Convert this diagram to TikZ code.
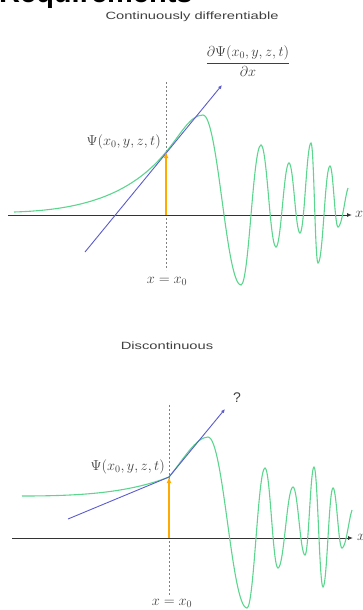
\documentclass[tikz,border=0pt]{standalone}
\usepackage{fontspec}
\setmainfont{Liberation Sans}
\usetikzlibrary{arrows.meta}
\definecolor{wave}{HTML}{5CD68F}
\definecolor{tang}{HTML}{5B5BD0}
\definecolor{amber}{HTML}{FFAA00}
\definecolor{axisc}{HTML}{333333}
\definecolor{txt}{HTML}{404040}
\tikzset{
  axisline/.style={draw=axisc, line width=0.9pt, -{Latex[length=5pt,width=4pt]}},
  guide/.style={draw=gray, dash pattern=on 2pt off 2pt, line width=0.5pt},
  wavecurve/.style={draw=wave, line width=1.1pt},
  tangent/.style={draw=tang, line width=0.9pt, -{Latex[length=4pt,width=3.5pt]}},
  lift/.style={draw=amber, line width=1.3pt, -{Latex[length=6pt,width=5pt]}},
  heading/.style={text=txt, font=\fontsize{10.5}{12}\selectfont, inner sep=0},
  mlabel/.style={text=txt, font=\fontsize{14}{16}\selectfont, inner sep=0}
}
\begin{document}
\begin{tikzpicture}[x=1pt,y=-1pt]
\useasboundingbox (0,0) rectangle (362,610);
\clip (0,0) rectangle (362,610);
\node[anchor=base west, inner sep=0, font=\fontsize{29}{30}\selectfont\bfseries] (req) at (-1,3) {Requirements};

% ---------- top panel ----------
\node[heading] (t1) at (192,17) {\scalebox{1.4}[1]{Continuously differentiable}};
\node[mlabel] (d1) at (248,61) {$\displaystyle\frac{\partial\Psi(x_0,y,z,t)}{\partial x}$};
\coordinate (a1l) at (8,215);
\coordinate (a1r) at (352,215);
\coordinate (o1) at (166,215);
\coordinate (p1) at (166,152);
\coordinate (g1t) at (166,82);
\coordinate (g1b) at (166,270);
\coordinate (b1s) at (85,252);
\coordinate (b1e) at (222,85);
\draw[guide] (g1t) -- (g1b);
\draw[axisline] (a1l) -- (a1r);
\node[mlabel, anchor=west] (x1) at (355,214) {$x$};
\node[mlabel] (e1) at (167,281) {$x = x_0$};
\draw[wavecurve] (14,212) .. controls (80,210) and (130,196) .. (p1)
  .. controls (181,134) and (190,115) .. (203,115)
  .. controls +(15,0) and +(-15,0) .. (241,285)
  .. controls +(8,0) and +(-8,0) .. (261,145)
  .. controls +(6,0) and +(-6,0) .. (276,247)
  .. controls +(5,0) and +(-5,0) .. (289,163)
  .. controls +(4.4,0) and +(-4.4,0) .. (300,233)
  .. controls +(4.4,0) and +(-4.4,0) .. (311,143)
  .. controls +(3,0) and +(-3,0) .. (318,263)
  .. controls +(5,0) and +(-5,0) .. (330,166)
  .. controls +(3.2,0) and +(-3.2,0) .. (338,227)
  .. controls +(4,0) and +(-3,8) .. (348,188);
\draw[tangent] (b1s) -- (b1e);
\draw[lift] (o1) -- (p1);
\node[mlabel, anchor=east] (psi1) at (161,142) {$\Psi(x_0,y,z,t)$};

% ---------- bottom panel ----------
\node[heading] (t2) at (167,346) {\scalebox{1.4}[1]{Discontinuous}};
\node[mlabel] (qm) at (237,398) {?};
\coordinate (a2l) at (12,538);
\coordinate (a2r) at (353,538);
\coordinate (o2) at (169,538);
\coordinate (p2) at (169,477);
\coordinate (g2t) at (169,405);
\coordinate (g2b) at (169,595);
\coordinate (b2s) at (68,519);
\coordinate (b2e) at (225,409);
\draw[guide] (g2t) -- (g2b);
\draw[axisline] (a2l) -- (a2r);
\node[mlabel, anchor=west] (x2) at (357,537) {$x$};
\node[mlabel] (e2) at (172,603) {$x = x_0$};
\draw[wavecurve] (22,496) .. controls (80,496) and (128,493) .. (p2)
  .. controls (183,460) and (196,437) .. (208,437)
  .. controls +(15.5,0) and +(-15.5,0) .. (247,608)
  .. controls +(7,0) and +(-7,0) .. (265,468)
  .. controls +(5.2,0) and +(-5.2,0) .. (278,568)
  .. controls +(6,0) and +(-6,0) .. (293,487)
  .. controls +(4.8,0) and +(-4.8,0) .. (305,555)
  .. controls +(3.6,0) and +(-3.6,0) .. (314,467)
  .. controls +(3.6,0) and +(-3.6,0) .. (323,587)
  .. controls +(4,0) and +(-4,0) .. (333,488)
  .. controls +(3.6,0) and +(-3.6,0) .. (342,548)
  .. controls +(4,0) and +(-3,8) .. (352,510);
\draw[tangent] (b2s) -- (p2) -- (b2e);
\draw[lift] (o2) -- (p2);
\node[mlabel, anchor=east] (psi2) at (165,467) {$\Psi(x_0,y,z,t)$};
\end{tikzpicture}
\end{document}
